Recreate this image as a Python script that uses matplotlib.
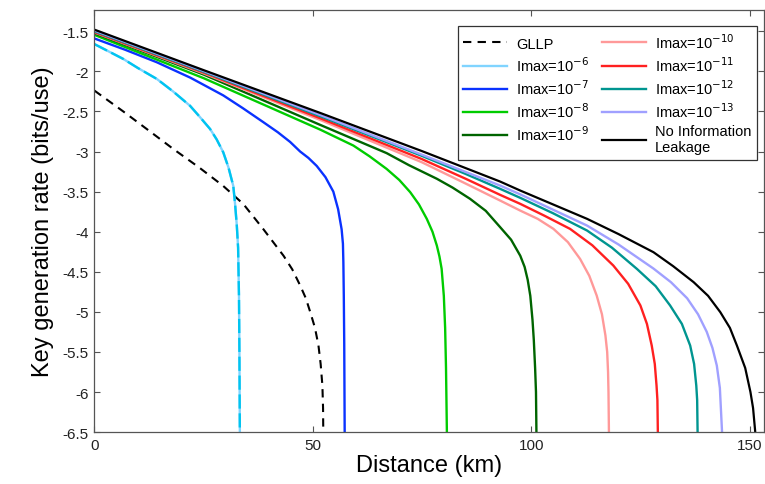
import matplotlib
matplotlib.use("Agg")
import matplotlib.pyplot as plt
from matplotlib.ticker import FuncFormatter

plt.rcParams['font.family'] = ['Liberation Sans', 'DejaVu Sans']
plt.rcParams['axes.unicode_minus'] = False

# Curves (distance in km, log10 key rate)
gllp_x = [0, 6.6, 12, 18.1, 24, 29.5, 34.1, 38.7, 43.3, 45.3, 47.1, 48.4, 49.4, 50.5,
          51.3, 51.8, 52.2, 52.35, 52.4]
gllp_y = [-2.24, -2.50, -2.72, -2.97, -3.2, -3.43, -3.655, -3.97, -4.30, -4.47, -4.67,
          -4.83, -5.00, -5.2, -5.42, -5.65, -5.92, -6.2, -6.5]

i6_x = [0, 6.6, 10, 14.3, 18, 21.9, 24, 26.5, 28, 29.5, 30.7, 31.8, 32.2, 32.6, 32.9,
        33.0, 33.1, 33.2, 33.3]
i6_y = [-1.66, -1.845, -1.96, -2.095, -2.25, -2.43, -2.56, -2.72, -2.85, -3.01, -3.2,
        -3.43, -3.65, -3.92, -4.2, -4.5, -4.8, -5.5, -6.5]

i7_x = [0, 7, 14.3, 22, 29.5, 34, 38.7, 42, 44.8, 47.1, 49, 50.9, 52.9, 54.7, 55.8,
        56.6, 56.9, 57.0, 57.1, 57.2, 57.3]
i7_y = [-1.59, -1.73, -1.887, -2.08, -2.30, -2.46, -2.635, -2.76, -2.88, -3.0, -3.08,
        -3.18, -3.32, -3.50, -3.72, -3.97, -4.15, -4.38, -4.8, -5.4, -6.5]

i8_x = [0, 25, 51.7, 59.3, 63, 66.9, 69.8, 72.3, 74.3, 76.1, 77.4, 78.4, 79.0, 79.5,
        80.0, 80.3, 80.5, 80.7]
i8_y = [-1.545, -2.085, -2.727, -2.926, -3.06, -3.217, -3.355, -3.507, -3.66, -3.84,
        -4.0, -4.173, -4.31, -4.464, -4.8, -5.2, -5.7, -6.5]

i9_x = [0, 25, 51.7, 66.9, 72, 78.4, 82, 86.0, 89.6, 92.9, 95.4, 97.5, 98.5, 99.2,
        99.8, 100.3, 100.6, 100.9, 101.1, 101.2]
i9_y = [-1.525, -2.04, -2.668, -3.02, -3.17, -3.34, -3.45, -3.59, -3.74, -3.944, -4.1,
        -4.30, -4.44, -4.6, -4.8, -5.1, -5.35, -5.7, -6.0, -6.5]

i10_x = [0, 25, 51.7, 75, 85, 92.9, 97.5, 101.5, 105.1, 108.4, 111.2, 113.3, 115.0,
         116.2, 117.0, 117.4, 117.6, 117.7, 117.8]
i10_y = [-1.515, -2.025, -2.606, -3.135, -3.40, -3.612, -3.737, -3.84, -3.965, -4.13,
         -4.34, -4.55, -4.797, -5.03, -5.295, -5.5, -5.75, -6.0, -6.5]

i11_x = [0, 25, 51.7, 75, 85, 92.9, 97.5, 103, 108.9, 114, 118.8, 122.2, 125.0, 126.5,
         127.6, 128.3, 128.7, 128.9, 129.0]
i11_y = [-1.51, -2.015, -2.585, -3.095, -3.34, -3.541, -3.653, -3.8, -3.965, -4.17,
         -4.422, -4.65, -4.92, -5.15, -5.42, -5.65, -5.92, -6.1, -6.5]

i12_x = [0, 25, 51.7, 75, 85, 92.9, 97.5, 105, 112.8, 118.5, 124.2, 128.5, 131.8,
         134.5, 136.4, 137.3, 137.8, 138.0, 138.1]
i12_y = [-1.50, -2.005, -2.56, -3.055, -3.28, -3.466, -3.578, -3.77, -3.986, -4.2,
         -4.464, -4.68, -4.92, -5.15, -5.42, -5.65, -5.92, -6.1, -6.5]

i13_x = [0, 25, 51.7, 75, 85, 92.9, 97.5, 112.8, 120, 128.0, 132, 135.7, 138.2, 140.2,
         141.5, 142.5, 143.2, 143.7]
i13_y = [-1.49, -1.995, -2.544, -3.04, -3.255, -3.425, -3.535, -3.924, -4.16, -4.46,
         -4.63, -4.83, -5.03, -5.25, -5.45, -5.67, -5.95, -6.5]

noleak_x = [0, 25, 51.7, 75, 85, 92.9, 97.5, 112.8, 120, 128.0, 132.5, 137.2, 140.5,
            143.3, 145.5, 147.1, 149, 150.2, 150.8, 151.3]
noleak_y = [-1.48, -1.985, -2.519, -2.995, -3.207, -3.375, -3.487, -3.84, -4.03, -4.256,
            -4.43, -4.63, -4.8, -5.004, -5.2, -5.42, -5.7, -6.0, -6.2, -6.5]

x_ticks = [0, 50, 100, 150]
y_ticks = [-1.5, -2, -2.5, -3, -3.5, -4, -4.5, -5, -5.5, -6, -6.5]

fig = plt.figure(figsize=(7.65, 4.85), dpi=100)
ax = fig.add_axes([0.1234, 0.107, 0.8747, 0.8703])

ax.plot(gllp_x, gllp_y, color='black', lw=1.5, ls=(0, (4, 3)), label='GLLP')
ax.plot(i6_x, i6_y, color='#80d4ff', lw=1.7, label='Imax=10$^{-6}$')
ax.plot(i6_x, i6_y, color='#00c4f0', lw=1.7, ls=(0, (6, 2)))
ax.plot(i7_x, i7_y, color='#0a32ff', lw=1.7, label='Imax=10$^{-7}$')
ax.plot(i8_x, i8_y, color='#00cc00', lw=1.7, label='Imax=10$^{-8}$')
ax.plot(i9_x, i9_y, color='#006400', lw=1.7, label='Imax=10$^{-9}$')
ax.plot(i10_x, i10_y, color='#ff9999', lw=1.7, label='Imax=10$^{-10}$')
ax.plot(i11_x, i11_y, color='#ff2020', lw=1.7, label='Imax=10$^{-11}$')
ax.plot(i12_x, i12_y, color='#009590', lw=1.7, label='Imax=10$^{-12}$')
ax.plot(i13_x, i13_y, color='#a0a0ff', lw=1.7, label='Imax=10$^{-13}$')
ax.plot(noleak_x, noleak_y, color='black', lw=1.6, label='No Information\nLeakage')

ax.set_xlim(0, 153.2)
ax.set_ylim(-6.5, -1.235)
ax.set_xticks(x_ticks)
ax.set_yticks(y_ticks)
ax.yaxis.set_major_formatter(FuncFormatter(lambda v, p: '%g' % v))
ax.tick_params(direction='in', top=True, right=True, length=4, width=0.8,
               color='#555555', labelsize=11, labelcolor='#222222', pad=4)
for s in ax.spines.values():
    s.set_color('#555555')
    s.set_linewidth(0.9)

ax.set_xlabel('Distance (km)', fontsize=17, labelpad=2)
ax.set_ylabel('Key generation rate (bits/use)', fontsize=17, labelpad=6)

leg = ax.legend(loc='upper right', bbox_to_anchor=(0.99, 0.962), ncol=2,
                fontsize=10.5, frameon=True, fancybox=False, edgecolor='black',
                handlelength=3.0, columnspacing=0.9, labelspacing=0.3,
                borderaxespad=0, handletextpad=0.6, borderpad=0.4)
leg.get_frame().set_linewidth(0.9)

fig.savefig('out.png', dpi=100)
